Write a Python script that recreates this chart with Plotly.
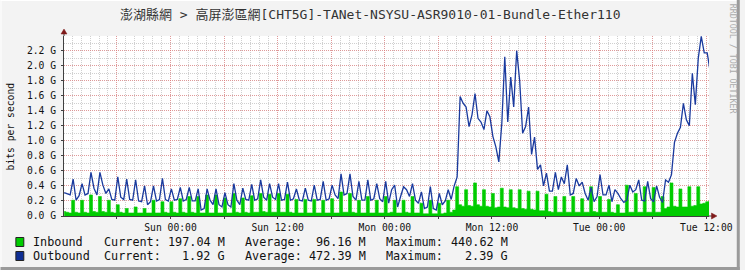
import numpy as np
import plotly.graph_objects as go

TITLE = "澎湖縣網 > 高屏澎區網[CHT5G]-TANet-NSYSU-ASR9010-01-Bundle-Ether110"
Y_LABEL = "bits per second"
WATERMARK = "RRDTOOL / TOBI OETIKER"

# x axis in hours relative to Sun 00:00
X_TICK_HOURS = [-6, 0, 6, 12, 18, 24, 30, 36, 42, 48, 54, 60]
X_TICK_LABELS = ["", "Sun 00:00", "", "Sun 12:00", "", "Mon 00:00", "",
                 "Mon 12:00", "", "Tue 00:00", "", "Tue 12:00"]
Y_TICK_VALUES = [0.0, 0.2, 0.4, 0.6, 0.8, 1.0, 1.2, 1.4, 1.6, 1.8, 2.0, 2.2]
Y_TICK_LABELS = ["0.0 G", "0.2 G", "0.4 G", "0.6 G", "0.8 G", "1.0 G",
                 "1.2 G", "1.4 G", "1.6 G", "1.8 G", "2.0 G", "2.2 G"]

START_HOUR = -11.9      # first sample, hours from Sun 00:00
STEP_HOURS = 1.0 / 3.0  # 20-minute samples

# Outbound traffic, Gbit/s
OUTBOUND_G = [
    0.31, 0.30, 0.28, 0.49, 0.21, 0.27, 0.43, 0.28, 0.30, 0.58, 0.37, 0.28,
    0.58, 0.41, 0.30, 0.36, 0.22, 0.21, 0.52, 0.25, 0.22, 0.49, 0.22, 0.21,
    0.48, 0.20, 0.19, 0.40, 0.15, 0.19, 0.40, 0.20, 0.22, 0.50, 0.22, 0.20,
    0.36, 0.21, 0.22, 0.38, 0.20, 0.22, 0.38, 0.20, 0.20, 0.36, 0.08, 0.10,
    0.36, 0.21, 0.15, 0.36, 0.15, 0.12, 0.31, 0.15, 0.12, 0.43, 0.21, 0.15,
    0.37, 0.22, 0.21, 0.42, 0.21, 0.23, 0.48, 0.25, 0.21, 0.43, 0.25, 0.22,
    0.43, 0.21, 0.22, 0.45, 0.21, 0.23, 0.36, 0.21, 0.20, 0.37, 0.21, 0.20,
    0.41, 0.21, 0.22, 0.46, 0.21, 0.23, 0.41, 0.28, 0.23, 0.56, 0.28, 0.30,
    0.56, 0.26, 0.21, 0.46, 0.21, 0.21, 0.48, 0.21, 0.23, 0.43, 0.23, 0.19,
    0.46, 0.17, 0.35, 0.41, 0.12, 0.26, 0.39, 0.35, 0.26, 0.43, 0.21, 0.17,
    0.32, 0.10, 0.12, 0.39, 0.10, 0.08, 0.30, 0.15, 0.20, 0.35, 0.22, 0.40,
    0.52, 1.59, 1.50, 1.45, 1.19, 1.35, 1.63, 1.30, 1.25, 1.15, 1.40, 1.32,
    1.06, 0.92, 0.72, 1.23, 2.12, 1.25, 1.85, 1.45, 2.20, 1.80, 1.10, 1.19,
    1.45, 0.82, 1.05, 0.62, 0.68, 0.40, 0.57, 0.33, 0.33, 0.58, 0.35, 0.52,
    0.43, 0.68, 0.28, 0.30, 0.50, 0.40, 0.45, 0.30, 0.21, 0.38, 0.19, 0.26,
    0.55, 0.28, 0.28, 0.41, 0.19, 0.35, 0.30, 0.23, 0.18, 0.21, 0.41, 0.32,
    0.35, 0.48, 0.21, 0.20, 0.46, 0.23, 0.19, 0.40, 0.25, 0.18, 0.48, 0.45,
    0.55, 0.98, 1.10, 1.18, 1.50, 1.28, 1.20, 1.90, 1.48, 2.10, 2.39, 2.17,
    2.17, 1.92,
]

# Inbound traffic, Gbit/s
INBOUND_G = [
    0.06, 0.05, 0.04, 0.21, 0.05, 0.04, 0.21, 0.05, 0.04, 0.28, 0.06, 0.05,
    0.26, 0.06, 0.05, 0.21, 0.05, 0.04, 0.15, 0.05, 0.04, 0.10, 0.04, 0.04,
    0.12, 0.04, 0.04, 0.10, 0.04, 0.04, 0.21, 0.04, 0.04, 0.19, 0.05, 0.04,
    0.19, 0.05, 0.04, 0.23, 0.05, 0.04, 0.26, 0.05, 0.04, 0.26, 0.04, 0.04,
    0.28, 0.04, 0.04, 0.28, 0.04, 0.04, 0.24, 0.04, 0.04, 0.30, 0.05, 0.04,
    0.24, 0.05, 0.04, 0.27, 0.05, 0.05, 0.30, 0.06, 0.05, 0.29, 0.05, 0.05,
    0.30, 0.05, 0.05, 0.29, 0.05, 0.04, 0.22, 0.04, 0.04, 0.22, 0.04, 0.04,
    0.22, 0.04, 0.04, 0.21, 0.04, 0.04, 0.23, 0.04, 0.04, 0.32, 0.05, 0.05,
    0.30, 0.05, 0.04, 0.21, 0.04, 0.04, 0.26, 0.04, 0.04, 0.21, 0.04, 0.04,
    0.26, 0.04, 0.05, 0.21, 0.04, 0.04, 0.21, 0.05, 0.04, 0.26, 0.04, 0.04,
    0.17, 0.03, 0.03, 0.21, 0.03, 0.03, 0.17, 0.03, 0.04, 0.21, 0.05, 0.08,
    0.39, 0.15, 0.13, 0.35, 0.14, 0.13, 0.44, 0.15, 0.13, 0.35, 0.13, 0.12,
    0.30, 0.11, 0.12, 0.37, 0.12, 0.11, 0.35, 0.11, 0.10, 0.35, 0.10, 0.09,
    0.33, 0.09, 0.08, 0.33, 0.07, 0.07, 0.29, 0.06, 0.05, 0.26, 0.05, 0.05,
    0.26, 0.05, 0.05, 0.26, 0.05, 0.05, 0.23, 0.05, 0.05, 0.39, 0.06, 0.05,
    0.26, 0.05, 0.05, 0.22, 0.05, 0.04, 0.15, 0.04, 0.04, 0.41, 0.05, 0.05,
    0.30, 0.05, 0.05, 0.39, 0.05, 0.05, 0.38, 0.05, 0.05, 0.26, 0.10, 0.12,
    0.44, 0.13, 0.12, 0.36, 0.12, 0.12, 0.39, 0.13, 0.14, 0.39, 0.16, 0.17,
    0.19, 0.197,
]

LEGEND_NAMES = ["Inbound", "Outbound"]
LEGEND_COLORS = ["#00CC00", "#0F2E94"]
CURRENT = ["197.04 M", "1.92 G"]
AVERAGE = ["96.16 M", "472.39 M"]
MAXIMUM = ["440.62 M", "2.39 G"]

hours = START_HOUR + STEP_HOURS * np.arange(len(OUTBOUND_G))

W, H = 745, 270
L, R, T, B = 64, 31, 36, 54
PW, PH = W - L - R, H - T - B


def px(x):
    return (x - L) / PW


def py(y):
    return (H - B - y) / PH


MONO = "DejaVu Sans Mono, Liberation Mono, monospace"
TITLE_FONT = "DejaVu Sans Mono, Noto Sans CJK TC, monospace"

fig = go.Figure()
fig.add_trace(go.Scatter(
    x=hours, y=INBOUND_G, mode="lines", fill="tozeroy",
    line=dict(color="#00CC00", width=0.6, shape="hvh"), fillcolor="#00CC00",
    name="Inbound", hoverinfo="skip"))
fig.add_trace(go.Scatter(
    x=hours, y=OUTBOUND_G, mode="lines",
    line=dict(color="#1A3A9E", width=1.3),
    name="Outbound", hoverinfo="skip"))

grid_major = "rgba(235,110,110,0.55)"
grid_minor = "rgba(170,170,170,0.55)"
dash = "1px,1px"
tickfont = dict(family=MONO, size=9.7, color="#111111")

fig.update_xaxes(
    range=[-11.922, 60.3], tickmode="array",
    tickvals=X_TICK_HOURS, ticktext=X_TICK_LABELS,
    showgrid=True, gridcolor=grid_major, griddash=dash, gridwidth=1,
    minor=dict(tickmode="linear", tick0=0, dtick=1, showgrid=True,
               gridcolor=grid_minor, griddash=dash, gridwidth=1,
               ticks=""),
    zeroline=False, showline=True, linecolor="#404040", linewidth=1,
    ticks="outside", ticklen=2, tickcolor="#404040",
    tickfont=tickfont, fixedrange=True)
fig.update_yaxes(
    range=[0, 2.395], tickmode="array",
    tickvals=Y_TICK_VALUES, ticktext=Y_TICK_LABELS,
    showgrid=True, gridcolor=grid_major, griddash=dash, gridwidth=1,
    minor=dict(tickmode="linear", tick0=0, dtick=0.1, showgrid=True,
               gridcolor=grid_minor, griddash=dash, gridwidth=1,
               ticks=""),
    zeroline=False, showline=True, linecolor="#404040", linewidth=1,
    ticks="outside", ticklen=2, tickcolor="#404040",
    tickfont=tickfont, ticklabelstandoff=3, fixedrange=True)

shapes = []
arrow = "#7F1A1A"
# y axis extension and arrow
shapes.append(dict(type="line", xref="paper", yref="paper",
                   x0=px(64), x1=px(64), y0=py(36), y1=py(32),
                   line=dict(color="#404040", width=1)))
shapes.append(dict(type="path", xref="paper", yref="paper",
                   path=f"M {px(61)} {py(34)} L {px(67)} {py(34)} L {px(64)} {py(29)} Z",
                   fillcolor=arrow, line=dict(color=arrow, width=0.5)))
# x axis extension and arrow
shapes.append(dict(type="line", xref="paper", yref="paper",
                   x0=px(714), x1=px(718), y0=py(216), y1=py(216),
                   line=dict(color="#404040", width=1)))
shapes.append(dict(type="path", xref="paper", yref="paper",
                   path=f"M {px(716.5)} {py(213)} L {px(716.5)} {py(219)} L {px(722)} {py(216)} Z",
                   fillcolor=arrow, line=dict(color=arrow, width=0.5)))
# outer frame
shapes.append(dict(type="line", xref="paper", yref="paper",
                   x0=px(0), x1=px(745), y0=py(0.5), y1=py(0.5),
                   line=dict(color="#FFFFFF", width=1)))
shapes.append(dict(type="line", xref="paper", yref="paper",
                   x0=px(0.5), x1=px(0.5), y0=py(0), y1=py(270),
                   line=dict(color="#FFFFFF", width=1)))
shapes.append(dict(type="line", xref="paper", yref="paper",
                   x0=px(0), x1=px(745), y0=py(268.5), y1=py(268.5),
                   line=dict(color="#9A9A9A", width=3)))
shapes.append(dict(type="line", xref="paper", yref="paper",
                   x0=px(743.5), x1=px(743.5), y0=py(0), y1=py(270),
                   line=dict(color="#9A9A9A", width=3)))

annotations = []
annotations.append(dict(text=TITLE, xref="paper", yref="paper",
                        x=px(372.5), y=py(14), xanchor="center", yanchor="middle",
                        showarrow=False,
                        font=dict(family=TITLE_FONT, size=13, color="#333333")))
annotations.append(dict(text=Y_LABEL, xref="paper", yref="paper",
                        x=px(10), y=py(126), xanchor="center", yanchor="middle",
                        textangle=-90, showarrow=False,
                        font=dict(family=MONO, size=9.7, color="#111111")))
annotations.append(dict(text=WATERMARK, xref="paper", yref="paper",
                        x=px(738.5), y=py(59), xanchor="center", yanchor="middle",
                        textangle=90, showarrow=False,
                        font=dict(family=MONO, size=8.3, color="#AAAAAA")))

lfont = dict(family=MONO, size=11.8, color="#111111")
for i, name in enumerate(LEGEND_NAMES):
    yc = 242 + 14 * i
    shapes.append(dict(type="rect", xref="paper", yref="paper",
                       x0=px(15.5), x1=px(23.5), y0=py(yc - 4.5), y1=py(yc + 4.5),
                       fillcolor=LEGEND_COLORS[i], line=dict(color="#222222", width=1)))
    items = [
        (name, 31, "left"),
        ("Current:", 102, "left"),
        (CURRENT[i], 228, "right"),
        ("Average:", 244, "left"),
        (AVERAGE[i], 370.5, "right"),
        ("Maximum:", 386, "left"),
        (MAXIMUM[i], 513, "right"),
    ]
    for text, x, anchor in items:
        annotations.append(dict(text=text, xref="paper", yref="paper",
                                x=px(x), y=py(yc), xanchor=anchor, yanchor="middle",
                                showarrow=False, font=lfont))

fig.update_layout(
    width=W, height=H, autosize=False,
    margin=dict(l=L, r=R, t=T, b=B, pad=0),
    paper_bgcolor="#F3F3F3", plot_bgcolor="#FFFFFF",
    showlegend=False, shapes=shapes, annotations=annotations)

fig.write_html("out.html", config={"displayModeBar": False})
